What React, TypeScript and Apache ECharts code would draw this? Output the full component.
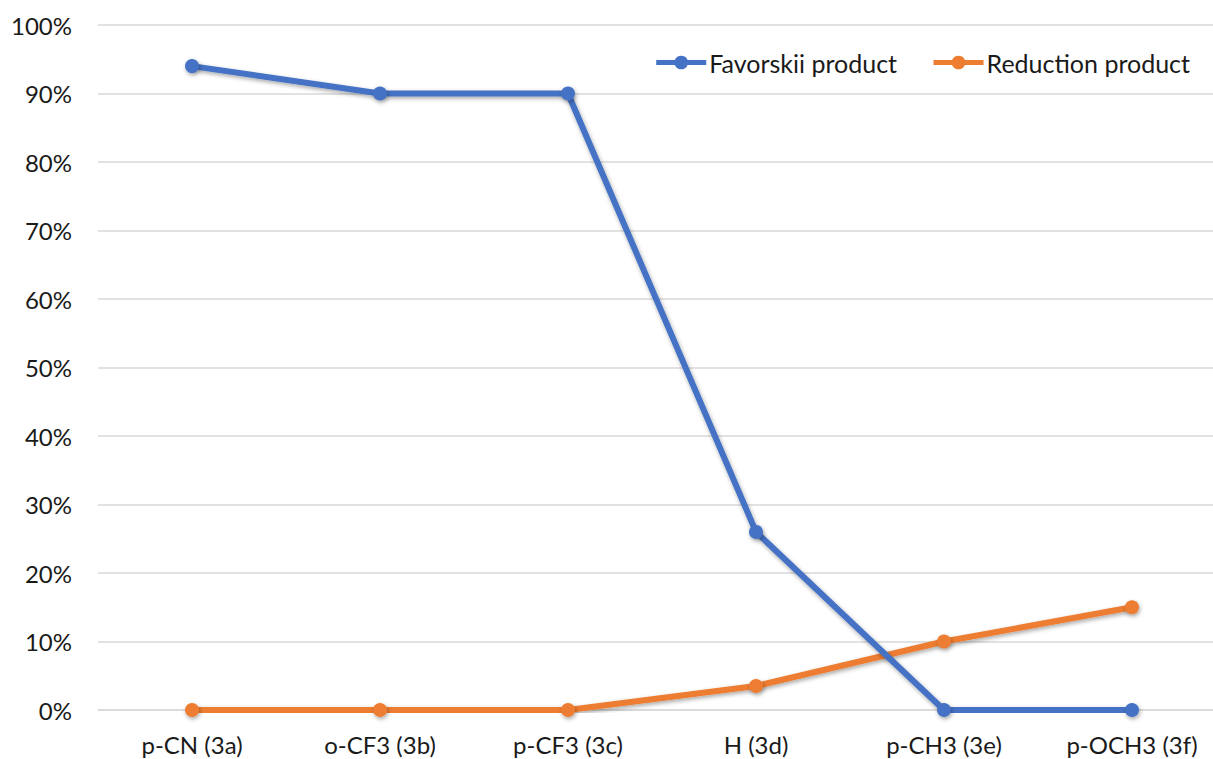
import React, { useEffect, useRef } from "react";
import * as echarts from "echarts";

const categories = ["p-CN (3a)", "o-CF3 (3b)", "p-CF3 (3c)", "H (3d)", "p-CH3 (3e)", "p-OCH3 (3f)"];
const favorskii = [94, 90, 90, 26, 0, 0];
const reduction = [0, 0, 0, 3.5, 10, 15];

const FONT = "Lato, 'Noto Sans', sans-serif";
const TEXT = "#1a1a1a";
const BLUE = "#4472c4";
const ORANGE = "#ed7d31";

// The plot area runs a little past the right edge of the visible frame,
// so the chart canvas is wider than the clipping wrapper.
const VIEW_W = 1213;
const VIEW_H = 759;
const CANVAS_W = 1250;

export default function App() {
  const ref = useRef<HTMLDivElement>(null);

  useEffect(() => {
    document.body.style.margin = "0";
    const chart = echarts.init(ref.current!, undefined, { renderer: "svg" });
    const lineShadow = {
      shadowColor: "rgba(0,0,0,0.35)",
      shadowBlur: 4,
      shadowOffsetX: 1,
      shadowOffsetY: 2,
    };
    chart.setOption({
      animation: false,
      backgroundColor: "#ffffff",
      textStyle: { fontFamily: FONT },
      grid: { left: 98, right: CANVAS_W - 1226, top: 25, bottom: 49, containLabel: false },
      legend: {
        right: CANVAS_W - 1195,
        top: 45,
        itemWidth: 50,
        itemHeight: 17,
        itemGap: 34,
        textStyle: { fontSize: 25, color: TEXT, fontFamily: FONT, padding: [0, 0, 0, -2] },
        data: [
          { name: "Favorskii product", lineStyle: { width: 5, color: BLUE } },
          { name: "Reduction product", lineStyle: { width: 5, color: ORANGE } },
        ],
      },
      xAxis: {
        type: "category",
        data: categories,
        boundaryGap: true,
        axisLine: { show: true, lineStyle: { color: "#d9d9d9", width: 1.5 } },
        axisTick: { show: false },
        axisLabel: { fontSize: 24, color: TEXT, margin: 22, fontFamily: FONT },
      },
      yAxis: {
        type: "value",
        min: 0,
        max: 100,
        interval: 10,
        axisLine: { show: false },
        axisTick: { show: false },
        axisLabel: {
          fontSize: 24,
          color: TEXT,
          margin: 26,
          fontFamily: FONT,
          formatter: (v: number) => `${v}%`,
        },
        splitLine: { lineStyle: { color: "#d9d9d9", width: 1.5 } },
      },
      series: [
        {
          name: "Favorskii product",
          type: "line",
          data: favorskii,
          symbol: "circle",
          symbolSize: 14,
          color: BLUE,
          lineStyle: { width: 6, color: BLUE, ...lineShadow },
          itemStyle: { color: BLUE, ...lineShadow },
          z: 3,
        },
        {
          name: "Reduction product",
          type: "line",
          data: reduction,
          symbol: "circle",
          symbolSize: 14,
          color: ORANGE,
          lineStyle: { width: 6, color: ORANGE, ...lineShadow },
          itemStyle: { color: ORANGE, ...lineShadow },
          z: 2,
        },
      ],
    });
    return () => chart.dispose();
  }, []);

  return (
    <div style={{ width: VIEW_W, height: VIEW_H, overflow: "hidden", position: "relative" }}>
      <div ref={ref} style={{ width: CANVAS_W, height: VIEW_H }} />
    </div>
  );
}
